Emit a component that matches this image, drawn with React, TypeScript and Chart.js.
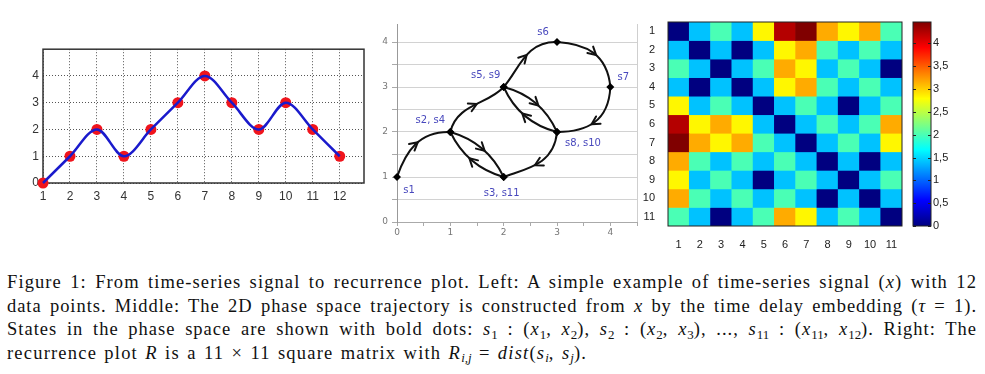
import React, { useEffect, useRef } from 'react';
import { Chart, registerables } from 'chart.js';

Chart.register(...registerables);

// ---------- Left: time-series signal ----------
const timeIndex = [1, 2, 3, 4, 5, 6, 7, 8, 9, 10, 11, 12];
const signal = [0, 1, 2, 1, 2, 3, 4, 3, 2, 3, 2, 1];
const signalXTicks = [1, 2, 3, 4, 5, 6, 7, 8, 9, 10, 11, 12];
const signalYTicks = [0, 1, 2, 3, 4];

// ---------- Middle: phase space trajectory ----------
const phaseX = [0, 1, 2, 1, 2, 3, 4, 3, 2, 3, 2];
const phaseY = [1, 2, 1, 2, 3, 4, 3, 2, 3, 2, 1];
const stateNames = ['s1', 's2, s4', 's3, s11', 's5, s9', 's6', 's7', 's8, s10'];
const stateNameAt = [0, 1, 2, 4, 5, 6, 7];
const phaseGridTicks = [0, 0.5, 1, 1.5, 2, 2.5, 3, 3.5, 4];
const phaseXTicks = [0, 0.5, 1, 1.5, 2, 2.5, 3, 3.5, 4, 4.5];

// ---------- Right: recurrence plot ----------
const rpLabels = ['1', '2', '3', '4', '5', '6', '7', '8', '9', '10', '11'];
const rpMatrix = [
  [0, 1.41, 2, 1.41, 2.83, 4.24, 4.47, 3.16, 2.83, 3.16, 2],
  [1.41, 0, 1.41, 0, 1.41, 2.83, 3.16, 2, 1.41, 2, 1.41],
  [2, 1.41, 0, 1.41, 2, 3.16, 2.83, 1.41, 2, 1.41, 0],
  [1.41, 0, 1.41, 0, 1.41, 2.83, 3.16, 2, 1.41, 2, 1.41],
  [2.83, 1.41, 2, 1.41, 0, 1.41, 2, 1.41, 0, 1.41, 2],
  [4.24, 2.83, 3.16, 2.83, 1.41, 0, 1.41, 2, 1.41, 2, 3.16],
  [4.47, 3.16, 2.83, 3.16, 2, 1.41, 0, 1.41, 2, 1.41, 2.83],
  [3.16, 2, 1.41, 2, 1.41, 2, 1.41, 0, 1.41, 0, 1.41],
  [2.83, 1.41, 2, 1.41, 0, 1.41, 2, 1.41, 0, 1.41, 2],
  [3.16, 2, 1.41, 2, 1.41, 2, 1.41, 0, 1.41, 0, 1.41],
  [2, 1.41, 0, 1.41, 2, 3.16, 2.83, 1.41, 2, 1.41, 0],
];
const colorMax = 4.47;
const colorbarTicks = [0, 0.5, 1, 1.5, 2, 2.5, 3, 3.5, 4];

// drawing parameters for the trajectory curves (bend at 1/3 and 2/3 of each edge)
const edgeBends = [
  [0.2, 0.3], [0.15, 0.15], [0.15, 0.15], [0.25, -0.05], [0.05, 0.3],
  [0.25, 0.33], [0.36, 0.28], [0.16, 0.16], [0.16, 0.16], [0.33, 0.12],
];
const labelOffsets = [[12, 13], [-20, -12], [-2, 16], [-18, -12], [-14, -10], [13, -10], [26, 11]];

const jet = (t: number) => {
  const c = (v: number) => Math.round(255 * Math.max(0, Math.min(1, v)));
  const r = c(1.5 - Math.abs(4 * t - 3));
  const g = c(1.5 - Math.abs(4 * t - 2));
  const b = c(1.5 - Math.abs(4 * t - 1));
  return `rgb(${r},${g},${b})`;
};

const boxPlugin = (color: string, width: number, hook: string) => ({
  id: 'box' + hook,
  [hook](chart: any) {
    const { ctx, chartArea: a } = chart;
    ctx.save();
    ctx.strokeStyle = color;
    ctx.lineWidth = width;
    ctx.strokeRect(a.left, a.top, a.right - a.left, a.bottom - a.top);
    ctx.restore();
  },
});

const trajectoryPlugin = {
  id: 'trajectory',
  beforeDatasetsDraw(chart: any) {
    const { ctx, scales } = chart;
    const px = (i: number) => ({ x: scales.x.getPixelForValue(phaseX[i]), y: scales.y.getPixelForValue(phaseY[i]) });
    ctx.save();
    ctx.strokeStyle = '#111';
    ctx.lineWidth = 2;
    ctx.lineCap = 'round';
    ctx.lineJoin = 'round';
    for (let i = 0; i < phaseX.length - 1; i++) {
      const p0 = px(i);
      const p1 = px(i + 1);
      const dx = p1.x - p0.x;
      const dy = p1.y - p0.y;
      const L = Math.hypot(dx, dy);
      const nx = dy / L;
      const ny = -dx / L;
      const [b1, b2] = edgeBends[i];
      const c1 = { x: p0.x + dx / 3 + nx * b1 * L, y: p0.y + dy / 3 + ny * b1 * L };
      const c2 = { x: p0.x + (2 * dx) / 3 + nx * b2 * L, y: p0.y + (2 * dy) / 3 + ny * b2 * L };
      ctx.beginPath();
      ctx.moveTo(p0.x, p0.y);
      ctx.bezierCurveTo(c1.x, c1.y, c2.x, c2.y, p1.x, p1.y);
      ctx.stroke();
      // arrow head
      const t = 0.55;
      const mt = 1 - t;
      const bx = mt * mt * mt * p0.x + 3 * mt * mt * t * c1.x + 3 * mt * t * t * c2.x + t * t * t * p1.x;
      const by = mt * mt * mt * p0.y + 3 * mt * mt * t * c1.y + 3 * mt * t * t * c2.y + t * t * t * p1.y;
      const tx = 3 * mt * mt * (c1.x - p0.x) + 6 * mt * t * (c2.x - c1.x) + 3 * t * t * (p1.x - c2.x);
      const ty = 3 * mt * mt * (c1.y - p0.y) + 6 * mt * t * (c2.y - c1.y) + 3 * t * t * (p1.y - c2.y);
      const ang = Math.atan2(ty, tx);
      const len = 9;
      const spread = 0.5;
      ctx.beginPath();
      ctx.moveTo(bx - len * Math.cos(ang - spread), by - len * Math.sin(ang - spread));
      ctx.lineTo(bx, by);
      ctx.lineTo(bx - len * Math.cos(ang + spread), by - len * Math.sin(ang + spread));
      ctx.stroke();
    }
    ctx.restore();
  },
  afterDatasetsDraw(chart: any) {
    const { ctx, scales } = chart;
    ctx.save();
    ctx.fillStyle = '#4848bd';
    ctx.font = '10px "DejaVu Sans"';
    ctx.textAlign = 'center';
    ctx.textBaseline = 'middle';
    stateNames.forEach((name, k) => {
      const i = stateNameAt[k];
      const x = scales.x.getPixelForValue(phaseX[i]) + labelOffsets[k][0];
      const y = scales.y.getPixelForValue(phaseY[i]) + labelOffsets[k][1];
      ctx.fillText(name, x, y);
    });
    ctx.restore();
  },
};

const colorbarPlugin = {
  id: 'cbticks',
  afterDraw(chart: any) {
    const { ctx, chartArea: a, scales } = chart;
    ctx.save();
    ctx.strokeStyle = '#222';
    ctx.lineWidth = 1;
    colorbarTicks.forEach((v) => {
      const y = Math.round(scales.y.getPixelForValue(v)) + 0.5;
      ctx.beginPath();
      ctx.moveTo(a.left, y);
      ctx.lineTo(a.left + 3, y);
      ctx.moveTo(a.right, y);
      ctx.lineTo(a.right - 3, y);
      ctx.stroke();
    });
    ctx.strokeRect(a.left, a.top, a.right - a.left, a.bottom - a.top);
    ctx.restore();
  },
};

const noUi = { legend: { display: false }, tooltip: { enabled: false } };

export default function App() {
  const c1 = useRef<HTMLCanvasElement>(null);
  const c2 = useRef<HTMLCanvasElement>(null);
  const c3 = useRef<HTMLCanvasElement>(null);
  const c4 = useRef<HTMLCanvasElement>(null);

  useEffect(() => {
    const charts: Chart[] = [];
    const pts = timeIndex.map((x, i) => ({ x, y: signal[i] }));

    charts.push(
      new Chart(c1.current!, {
        type: 'line',
        data: {
          datasets: [
            {
              data: pts,
              borderColor: '#1a1acc',
              borderWidth: 2.5,
              cubicInterpolationMode: 'monotone',
              pointRadius: 0,
              fill: false,
              order: 1,
              clip: false,
            } as any,
            {
              data: pts,
              showLine: false,
              pointRadius: 5.5,
              pointBackgroundColor: '#f0141c',
              pointBorderWidth: 0,
              order: 2,
              clip: false,
            } as any,
          ],
        },
        options: {
          animation: false,
          responsive: false,
          events: [],
          layout: { padding: { top: 10, right: 9, left: 0, bottom: 0 } },
          plugins: noUi,
          scales: {
            x: {
              type: 'linear',
              min: 1,
              max: 12.9,
              afterBuildTicks: (s: any) => { s.ticks = signalXTicks.map((v) => ({ value: v })); },
              afterFit: (s: any) => { s.height = 27; },
              grid: { color: '#555', lineWidth: 1, drawTicks: false },
              border: { display: false, dash: [1, 2] },
              ticks: { color: '#333', font: { family: 'Liberation Sans', size: 12 }, padding: 6, maxRotation: 0, autoSkip: false },
            },
            y: {
              min: 0,
              max: 5,
              afterBuildTicks: (s: any) => { s.ticks = signalYTicks.map((v) => ({ value: v })); },
              afterFit: (s: any) => { s.width = 30; },
              grid: { color: '#555', lineWidth: 1, drawTicks: false },
              border: { display: false, dash: [1, 2] },
              ticks: { color: '#333', font: { family: 'Liberation Sans', size: 12 }, padding: 4 },
            },
          },
        } as any,
        plugins: [boxPlugin('#333', 1.5, 'beforeDatasetsDraw')],
      })
    );

    charts.push(
      new Chart(c2.current!, {
        type: 'scatter',
        data: {
          datasets: [
            {
              data: phaseX.map((x, i) => ({ x, y: phaseY[i] })),
              pointStyle: 'rectRot',
              pointRadius: 4,
              pointBackgroundColor: '#000',
              pointBorderWidth: 0,
              clip: false,
            } as any,
          ],
        },
        options: {
          animation: false,
          responsive: false,
          events: [],
          layout: { padding: { top: 14, right: 10, left: 0, bottom: 0 } },
          plugins: noUi,
          scales: {
            x: {
              type: 'linear',
              min: 0,
              max: 4.5,
              afterBuildTicks: (s: any) => { s.ticks = phaseXTicks.map((v) => ({ value: v })); },
              afterFit: (s: any) => { s.height = 23; },
              grid: {
                color: (c: any) => (c.tick && c.tick.value === 4.5 ? '#cfcfcf' : 'rgba(0,0,0,0)'),
                tickColor: '#aaa',
                tickLength: 4,
              },
              border: { display: true, color: '#aaa' },
              ticks: {
                color: '#777',
                font: { family: 'DejaVu Sans', size: 9 },
                padding: 1,
                maxRotation: 0,
                autoSkip: false,
                callback: (v: any) => (Number.isInteger(v) ? String(v) : ''),
              },
            },
            y: {
              min: 0,
              max: 4.4,
              afterBuildTicks: (s: any) => { s.ticks = phaseGridTicks.map((v) => ({ value: v })); },
              afterFit: (s: any) => { s.width = 35; },
              grid: { color: '#d2d2d2', tickColor: '#aaa', tickLength: 5 },
              border: { display: true, color: '#999' },
              ticks: {
                color: '#777',
                font: { family: 'DejaVu Sans', size: 9 },
                padding: 4,
                autoSkip: false,
                callback: (v: any) => (Number.isInteger(v) ? String(v) : ''),
              },
            },
          },
        } as any,
        plugins: [trajectoryPlugin],
      })
    );

    charts.push(
      new Chart(c3.current!, {
        type: 'bar',
        data: {
          labels: rpLabels,
          datasets: rpMatrix.map((row, r) => ({
            data: row.map(() => [r, r + 1]),
            backgroundColor: row.map((v) => jet(v / colorMax)),
            borderWidth: 0,
            grouped: false,
            barPercentage: 1,
            categoryPercentage: 1,
          })) as any,
        },
        options: {
          animation: false,
          responsive: false,
          events: [],
          layout: { padding: { top: 12, right: 6, left: 0, bottom: 0 } },
          plugins: noUi,
          scales: {
            x: {
              type: 'category',
              afterFit: (s: any) => { s.height = 24; },
              grid: { display: false },
              border: { display: false },
              ticks: { color: '#222', font: { family: 'Liberation Sans', size: 11 }, padding: 4, maxRotation: 0, autoSkip: false },
            },
            y: {
              type: 'linear',
              min: 0,
              max: 11,
              reverse: true,
              afterBuildTicks: (s: any) => { s.ticks = rpLabels.map((_, i) => ({ value: i + 0.5 })); },
              afterFit: (s: any) => { s.width = 28; },
              grid: { display: false },
              border: { display: false },
              ticks: {
                color: '#222',
                font: { family: 'Liberation Sans', size: 11 },
                padding: 5,
                autoSkip: false,
                callback: (v: any) => rpLabels[Math.round(v - 0.5)],
              },
            },
          },
        } as any,
        plugins: [boxPlugin('#222', 1, 'afterDraw')],
      })
    );

    charts.push(
      new Chart(c4.current!, {
        type: 'bar',
        data: {
          labels: [''],
          datasets: [
            {
              data: [[0, colorMax]],
              backgroundColor: (c: any) => {
                const a = c.chart.chartArea;
                if (!a) return '#000';
                const g = c.chart.ctx.createLinearGradient(0, a.bottom, 0, a.top);
                for (let i = 0; i <= 40; i++) g.addColorStop(i / 40, jet(i / 40));
                return g;
              },
              borderWidth: 0,
              barPercentage: 1,
              categoryPercentage: 1,
            } as any,
          ],
        },
        options: {
          animation: false,
          responsive: false,
          events: [],
          layout: { padding: { top: 12, right: 0, left: 13, bottom: 24 } },
          plugins: noUi,
          scales: {
            x: { display: false },
            y: {
              position: 'right',
              min: 0,
              max: colorMax,
              afterBuildTicks: (s: any) => { s.ticks = colorbarTicks.map((v) => ({ value: v })); },
              afterFit: (s: any) => { s.width = 44; },
              grid: { display: false, drawTicks: false },
              border: { display: false },
              ticks: {
                color: '#222',
                font: { family: 'Liberation Sans', size: 11 },
                padding: 2,
                autoSkip: false,
                callback: (v: any) => String(v).replace('.', ','),
              },
            },
          },
        } as any,
        plugins: [colorbarPlugin],
      })
    );

    return () => charts.forEach((c) => c.destroy());
  }, []);

  const sub: React.CSSProperties = { fontSize: '0.7em', verticalAlign: 'baseline', position: 'relative', top: '0.3em', letterSpacing: 0 };
  const line = (top: number, last: boolean, ls: number): React.CSSProperties => ({
    position: 'absolute',
    left: 7,
    top,
    width: 970,
    whiteSpace: 'nowrap',
    textAlign: last ? 'left' : 'justify',
    textAlignLast: last ? 'left' : 'justify',
    lineHeight: '20px',
    letterSpacing: ls + 'px',
  });

  return (
    <div style={{ position: 'absolute', left: 0, top: 0, width: 985, height: 374, background: '#fff', overflow: 'hidden' }}>
      <canvas ref={c1} width={360} height={172} style={{ position: 'absolute', left: 13, top: 38, width: 360, height: 172 }} />
      <canvas ref={c2} width={285} height={235} style={{ position: 'absolute', left: 362, top: 10, width: 285, height: 235 }} />
      <canvas ref={c3} width={268} height={240} style={{ position: 'absolute', left: 640, top: 10, width: 268, height: 240 }} />
      <canvas ref={c4} width={75} height={240} style={{ position: 'absolute', left: 900, top: 10, width: 75, height: 240 }} />
      <div style={{ fontFamily: '"Liberation Serif", serif', fontSize: 18.5, wordSpacing: '1.5px', color: '#111' }}>
        <div style={line(272, false, 1.1)}>
          Figure 1: From time-series signal to recurrence plot. Left: A simple example of time-series signal (<i>x</i>) with 12
        </div>
        <div style={line(295.5, false, 0.95)}>
          data points. Middle: The 2D phase space trajectory is constructed from <i>x</i> by the time delay embedding (<i>τ</i> = 1).
        </div>
        <div style={line(319, false, 1.0)}>
          States in the phase space are shown with bold dots: <i>s</i><span style={sub}>1</span> : (<i>x</i><span style={sub}>1</span>, <i>x</i><span style={sub}>2</span>), <i>s</i><span style={sub}>2</span> : (<i>x</i><span style={sub}>2</span>, <i>x</i><span style={sub}>3</span>), ..., <i>s</i><span style={sub}>11</span> : (<i>x</i><span style={sub}>11</span>, <i>x</i><span style={sub}>12</span>). Right: The
        </div>
        <div style={line(342.5, true, 1.2)}>
          recurrence plot <i>R</i> is a 11 × 11 square matrix with <i>R</i><span style={sub}><i>i,j</i></span> = <i>dist</i>(<i>s</i><span style={sub}><i>i</i></span>, <i>s</i><span style={sub}><i>j</i></span>).
        </div>
      </div>
    </div>
  );
}
